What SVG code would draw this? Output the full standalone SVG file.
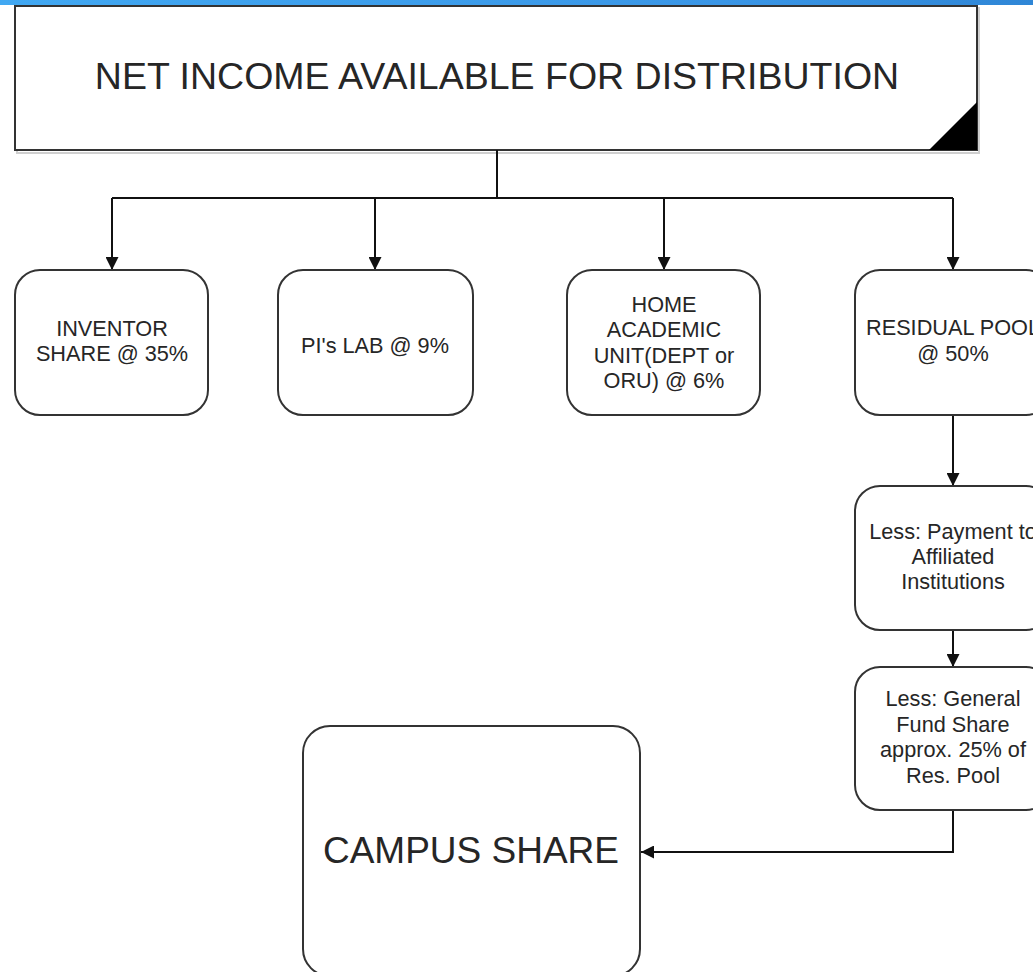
<svg xmlns="http://www.w3.org/2000/svg" width="1033" height="972" viewBox="0 0 1033 972">
  <defs>
    <linearGradient id="bar" x1="0" y1="0" x2="1" y2="0">
      <stop offset="0" stop-color="#41a8f2"/>
      <stop offset="0.7" stop-color="#3a96e6"/>
      <stop offset="1" stop-color="#2f86d6"/>
    </linearGradient>
    <marker id="arrow" viewBox="0 0 13 13" refX="13" refY="6.5" markerWidth="13" markerHeight="13" markerUnits="userSpaceOnUse" orient="auto">
      <path d="M0,0 L13,6.5 L0,13 Z" fill="#111"/>
    </marker>
    <style>
      .box { fill: #ffffff; stroke: #333333; stroke-width: 2; }
      .shadow { fill: none; stroke: #cfcfcf; stroke-width: 2; }
      .conn { fill: none; stroke: #111111; stroke-width: 2; }
      .t { font-family: "Liberation Sans", Arial, sans-serif; fill: #262626; text-anchor: middle; }
      .small { font-size: 21.7px; }
    </style>
  </defs>
  <rect x="0" y="0" width="1033" height="972" fill="#ffffff"/>
  <rect x="0" y="0" width="1033" height="5" fill="url(#bar)"/>

  <g id="net-income">
    <rect class="shadow" x="17" y="8" width="962" height="145"/>
    <rect class="box" x="15" y="6" width="962" height="144"/>
    <polygon points="929,150 977,150 977,102" fill="#000000"/>
    <text class="t" x="497" y="89" font-size="37.5">NET INCOME AVAILABLE FOR DISTRIBUTION</text>
  </g>

  <g id="connectors">
    <polyline class="conn" points="497,150 497,198"/>
    <polyline class="conn" points="112,198 953,198"/>
    <polyline class="conn" points="112,198 112,270" marker-end="url(#arrow)"/>
    <polyline class="conn" points="375,198 375,270" marker-end="url(#arrow)"/>
    <polyline class="conn" points="664,198 664,270" marker-end="url(#arrow)"/>
    <polyline class="conn" points="953,198 953,270" marker-end="url(#arrow)"/>
    <polyline class="conn" points="953,415 953,486" marker-end="url(#arrow)"/>
    <polyline class="conn" points="953,630 953,667" marker-end="url(#arrow)"/>
    <polyline class="conn" points="953,810 953,852 641,852" marker-end="url(#arrow)"/>
  </g>

  <g id="inventor">
    <rect class="box" x="15" y="270" width="193" height="145" rx="25" ry="25"/>
    <text class="t small" x="112" y="336">INVENTOR</text>
    <text class="t small" x="112" y="361">SHARE @ 35%</text>
  </g>

  <g id="pi-lab">
    <rect class="box" x="278" y="270" width="195" height="145" rx="25" ry="25"/>
    <text class="t small" x="375" y="353">PI's LAB @ 9%</text>
  </g>

  <g id="home-unit">
    <rect class="box" x="567" y="270" width="193" height="145" rx="25" ry="25"/>
    <text class="t small" x="664" y="312">HOME</text>
    <text class="t small" x="664" y="337">ACADEMIC</text>
    <text class="t small" x="664" y="363">UNIT(DEPT or</text>
    <text class="t small" x="664" y="388">ORU) @ 6%</text>
  </g>

  <g id="residual-pool">
    <rect class="box" x="855" y="270" width="196" height="145" rx="25" ry="25"/>
    <text class="t small" x="953" y="335">RESIDUAL POOL</text>
    <text class="t small" x="953" y="361">@ 50%</text>
  </g>

  <g id="payment">
    <rect class="box" x="855" y="486" width="196" height="144" rx="25" ry="25"/>
    <text class="t small" x="953" y="539">Less: Payment to</text>
    <text class="t small" x="953" y="564">Affiliated</text>
    <text class="t small" x="953" y="589">Institutions</text>
  </g>

  <g id="general-fund">
    <rect class="box" x="855" y="667" width="196" height="143" rx="25" ry="25"/>
    <text class="t small" x="953" y="706">Less: General</text>
    <text class="t small" x="953" y="732">Fund Share</text>
    <text class="t small" x="953" y="757">approx. 25% of</text>
    <text class="t small" x="953" y="783">Res. Pool</text>
  </g>

  <g id="campus-share">
    <rect class="box" x="303" y="726" width="337" height="250" rx="27" ry="27"/>
    <text class="t" x="471" y="863" font-size="37">CAMPUS SHARE</text>
  </g>
</svg>
